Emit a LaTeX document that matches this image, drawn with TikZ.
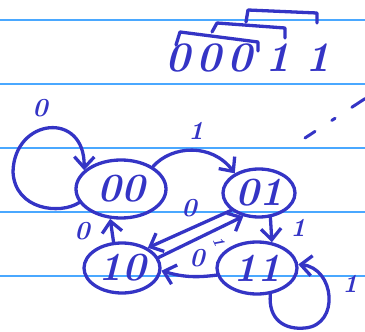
\documentclass[tikz,border=0pt]{standalone}
\usepackage{fontspec}
\usetikzlibrary{arrows.meta,shapes.geometric}
\definecolor{ink}{RGB}{52,52,197}
\definecolor{ruling}{RGB}{74,168,255}
\tikzset{
  state/.style={draw=ink, text=ink, line width=3.3pt, ellipse, inner sep=0pt,
    font=\fontsize{40}{40}\selectfont\bfseries\itshape},
  edge/.style={draw=ink, line width=3.3pt, line cap=round,
    -{Straight Barb[length=11pt,width=20pt,line width=3.3pt]}},
  lbl/.style={text=ink, inner sep=0pt, font=\fontsize{26}{26}\selectfont\bfseries\itshape},
  ruleline/.style={draw=ruling, line width=1.6pt},
  bracket/.style={draw=ink, line width=3.3pt, line cap=round, line join=round}
}
\begin{document}
\begin{tikzpicture}[x=1pt,y=-1pt]
\useasboundingbox (0,0) rectangle (365,332);
% ruled paper
\foreach \yy in {20,84,148,212,276} \draw[ruleline] (0,\yy) -- (365,\yy);
% sequence
\node[lbl, font=\fontsize{42}{42}\selectfont\bfseries\itshape] (seq) at (248,58) {0\kern6pt0\kern6pt0\kern14pt1\kern15pt1};
\draw[bracket] (176,45) -- (180,32) -- (258,42) -- (258,51);
\draw[bracket] (212,32) -- (217,23) -- (285,28) -- (285,38);
\draw[bracket] (246,22) -- (248,10) -- (317,13) -- (317,23);
% dashed stroke
\draw[ink, line width=3pt, line cap=round, dash pattern=on 12pt off 20pt on 4pt off 20pt on 16pt] (305,138) -- (366,98);
% states
\node[state, minimum width=90pt, minimum height=58pt] (s00) at (121,189) {00};
\node[state, minimum width=72pt, minimum height=48pt] (s01) at (259,193) {01};
\node[state, minimum width=76pt, minimum height=50pt] (s10) at (122,268) {10};
\node[state, minimum width=80pt, minimum height=52pt] (s11) at (257,268) {11};
% transitions
\draw[edge] (s00.198) .. controls (60,215) and (15,210) .. (13,172)
            .. controls (14,118) and (85,110) .. (s00.153);
\draw[edge] (s00.35) .. controls (172,145) and (212,143) .. (s01.141);
\draw[edge] (s01.212) -- (s10.38);
\draw[edge] (s10.16) -- (s01.236);
\draw[edge] (s01.295) -- (s11.60);
\draw[edge] (s11.190) to[bend left=12] (s10.-4);
\draw[edge] (s10.108) -- (s00.250);
\draw[edge] (s11.297) .. controls (268,320) and (285,330) .. (305,328)
            .. controls (340,325) and (335,268) .. (s11.5);
% labels
\node[lbl] (l00) at (40,108) {0};
\node[lbl] (l0001) at (196,131) {1};
\node[lbl] (l0110) at (189,208) {0};
\node[lbl, font=\fontsize{16}{16}\selectfont\bfseries\itshape, rotate=-65] (l1001) at (219,242) {1};
\node[lbl] (l0111) at (298,228) {1};
\node[lbl] (l1110) at (197,258) {0};
\node[lbl] (l11) at (350,284) {1};
\node[lbl] (l1000) at (82,231) {0};
\end{tikzpicture}
\end{document}
